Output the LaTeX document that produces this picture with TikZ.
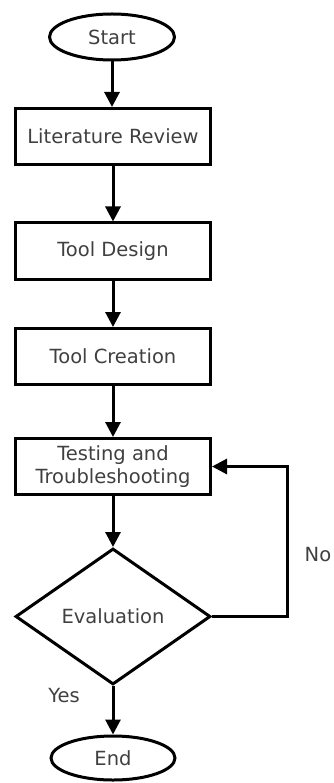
\documentclass[tikz,border=0pt]{standalone}
\usepackage{fontspec}
\setmainfont{DejaVu Sans}
\usetikzlibrary{shapes.geometric,arrows.meta}
\begin{document}
\begin{tikzpicture}[x=1pt,y=-1pt,
  lbl/.style={text=black!75, font=\fontsize{19.5}{22.5}\selectfont},
  box/.style={lbl, draw=black, line width=3pt, minimum width=195pt, minimum height=56pt, inner sep=0pt, align=center},
  term/.style={lbl, ellipse, draw=black, line width=3pt, inner sep=0pt},
  dec/.style={lbl, diamond, draw=black, line width=3pt, minimum width=195pt, minimum height=136pt, inner sep=0pt},
  arr/.style={-{Triangle[length=15pt,width=15pt]}, line width=3pt}]
\useasboundingbox (0,0) rectangle (334,783);
\node[term, minimum width=125pt, minimum height=46pt] (start) at (112,37) {Start};
\node[box] (lit) at (113,136.5) {Literature Review};
\node[box] (design) at (113,251) {Tool Design};
\node[box] (create) at (113,356.5) {Tool Creation};
\node[box] (test) at (113,466.5) {Testing and\\Troubleshooting};
\node[dec] (eval) at (113,616.5) {Evaluation};
\node[term, minimum width=124pt, minimum height=44pt] (end) at (113,758) {End};
\node[lbl] (no) at (318,555) {No};
\node[lbl] (yes) at (64,696) {Yes};
\coordinate (fb) at (287,616.5);
\draw[arr] (start.south) -- (start.south |- lit.north);
\draw[arr] (lit.south) -- (design.north);
\draw[arr] (design.south) -- (create.north);
\draw[arr] (create.south) -- (test.north);
\draw[arr] (test.south) -- (eval.north);
\draw[arr] (eval.south) -- (end.north);
\draw[arr] (eval.east) -- (fb) |- (test.east);
\end{tikzpicture}
\end{document}
